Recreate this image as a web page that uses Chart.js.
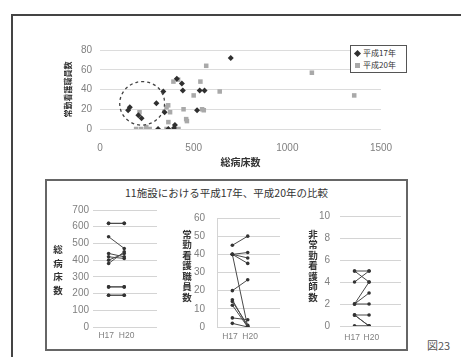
<!DOCTYPE html>
<html lang="ja">
<head>
<meta charset="utf-8">
<title>総病床数と看護職員数</title>
<script src="https://cdn.jsdelivr.net/npm/chart.js@4.4.1/dist/chart.umd.min.js"></script>
<style>
  html, body { margin: 0; padding: 0; background: #fff; }
  body { width: 461px; height: 357px; position: relative; overflow: hidden;
         font-family: "Liberation Sans", Arial, "Noto Sans CJK JP", sans-serif; }
  canvas { position: absolute; }
  .frame { position: absolute; left: 11px; top: 14px; width: 470px; height: 360px;
           border-left: 2px solid #444; border-top: 2px solid #444; }
  .panel { position: absolute; left: 45px; top: 179px; width: 359px; height: 168px;
           border: 2px solid #666; }
  .panel-title { position: absolute; left: 45px; top: 185px; width: 363px; text-align: center;
                 font-size: 10.5px; color: #333; font-family: "Noto Sans CJK JP", sans-serif; }
  .legend { position: absolute; left: 350px; top: 45px; width: 55px; height: 25px;
            border: 1.5px solid #555; background: #fff; font-size: 8px; color: #333;
            font-family: "Noto Sans CJK JP", sans-serif; padding-top: 1px; }
  .legend div { height: 12px; line-height: 12px; padding-left: 12px; position: relative; }
  .legend i { position: absolute; left: 4px; top: 3.5px; width: 5px; height: 5px; }
  .legend .k17 i { background: #2f2f2f; transform: rotate(45deg); }
  .legend .k20 i { background: #a9a9a9; }
  .vlabel { position: absolute; writing-mode: vertical-rl; text-orientation: upright;
            transform: translate(-50%, -50%); font-size: 9.5px; font-weight: bold; color: #333;
            font-family: "Noto Sans CJK JP", sans-serif; }
  .fig { position: absolute; left: 427px; top: 337px; font-size: 11px; color: #555;
         font-family: "Noto Sans CJK JP", sans-serif; }
</style>
</head>
<body>
<div class="frame"></div>
<canvas id="scatter" width="380" height="140" style="left:30px;top:30px"></canvas>
<div class="legend">
  <div class="k17"><i></i>平成17年</div>
  <div class="k20"><i></i>平成20年</div>
</div>

<div class="panel"></div>
<div class="panel-title">11施設における平成17年、平成20年の比較</div>
<canvas id="beds" width="115" height="147" style="left:50px;top:198px"></canvas>
<canvas id="nurses" width="112" height="147" style="left:176px;top:200px"></canvas>
<canvas id="parttime" width="100" height="147" style="left:305px;top:200px"></canvas>
<div class="vlabel" style="left:58px;top:272px;letter-spacing:4px">総病床数</div>
<div class="vlabel" style="left:187px;top:266px;letter-spacing:1px">常勤看護職員数</div>
<div class="vlabel" style="left:313px;top:266px;letter-spacing:1px">非常勤看護師数</div>
<div class="fig">図23</div>

<script>
// 散布図：総病床数 × 常勤看護職員数
const beds17  = [698, 410, 437, 442, 338, 532, 558, 301, 518, 159, 150, 205, 222, 345, 310, 365, 400, 395];
const staff17 = [ 72,  51,  46,  39,  38,  39,  39,  26,  19,  22,  19,  14,  11,  17,   0,   0,   4,   1];
const beds20  = [567, 1131, 1357, 392, 417, 536, 639, 500, 355, 364, 374, 446, 554, 545, 464, 365, 355, 419, 211, 220, 247, 265, 193, 460];
const staff20 = [ 64,   57,   34,  48,  50,  48,  38,  34,  22,  24,  17,  20,  19,  20,   8,   7,   0,   0,  17,   0,   2,   0,   0,  10];
const scatterXTicks = [0, 500, 1000, 1500];
const scatterYTicks = [0, 20, 40, 60, 80];

// 小規模施設のまとまりを囲む破線（データ座標）
const ringCenter = [225, 26];
const ringRadius = [120, 22];

// 11施設の比較（H17 → H20）
const yearLabels = ['H17', 'H20'];
const bedsH17    = [620, 620, 540, 380, 400, 440, 420, 240, 240, 190, 190];
const bedsH20    = [620, 620, 470, 450, 440, 420, 410, 240, 240, 190, 190];
const nursesH17  = [45, 40, 40, 40, 40, 20, 15, 14, 12, 5, 2];
const nursesH20  = [50, 41, 38, 35,  0, 26,  0,  1,  0, 4, 0];
const partH17    = [5, 5, 2, 2, 2, 1, 1, 0, 0, 1, 4];
const partH20    = [5, 4, 4, 3, 2, 0, 0, 0, 0, 1, 5];
const bedTicks   = [0, 100, 200, 300, 400, 500, 600, 700];
const nurseTicks = [0, 10, 20, 30, 40, 50, 60];
const partTicks  = [0, 2, 4, 6, 8, 10];

Chart.defaults.font.family = '"Liberation Sans", Arial, "Noto Sans CJK JP", sans-serif';
Chart.defaults.color = '#808080';

const pts = (xs, ys) => xs.map((x, i) => ({x, y: ys[i]}));
const fixedTicks = list => axis => { axis.ticks = list.map(v => ({value: v})); };
// 2つの年ラベルが詰まらないよう外側へ少し寄せる
const yearTick = v => (v === 1 ? yearLabels[0] + '  ' : '  ' + yearLabels[1]);

const ring = {
  id: 'ring',
  afterDatasetsDraw(chart) {
    const {ctx, scales: {x, y}} = chart;
    const cx = x.getPixelForValue(ringCenter[0]);
    const cy = y.getPixelForValue(ringCenter[1]);
    const rx = x.getPixelForValue(ringCenter[0] + ringRadius[0]) - cx;
    const ry = cy - y.getPixelForValue(ringCenter[1] + ringRadius[1]);
    ctx.save();
    ctx.beginPath();
    ctx.setLineDash([3, 3]);
    ctx.lineWidth = 1.3;
    ctx.strokeStyle = '#444';
    ctx.ellipse(cx, cy, rx, ry, -0.25, 0, Math.PI * 2);
    ctx.stroke();
    ctx.restore();
  }
};

new Chart(document.getElementById('scatter'), {
  type: 'scatter',
  data: {
    datasets: [
      { label: '平成17年', data: pts(beds17, staff17), pointStyle: 'rectRot', radius: 3,
        backgroundColor: '#2f2f2f', borderColor: '#2f2f2f', borderWidth: 0 },
      { label: '平成20年', data: pts(beds20, staff20), pointStyle: 'rect', radius: 3.2,
        backgroundColor: '#a9a9a9', borderColor: '#a9a9a9', borderWidth: 0 }
    ]
  },
  options: {
    responsive: false, animation: false,
    layout: { padding: { left: 0, top: 20, right: 29, bottom: 0 } },
    plugins: { legend: { display: false }, tooltip: { enabled: false } },
    scales: {
      x: {
        type: 'linear', min: 0, max: 1500,
        afterBuildTicks: fixedTicks(scatterXTicks),
        grid: { display: false, drawTicks: false }, border: { display: false },
        ticks: { padding: 13, font: { size: 10 }, callback: v => String(v) },
        title: { display: true, text: '総病床数', color: '#333',
                 font: { size: 10, weight: 'bold' }, padding: { top: 0, bottom: 1 } },
        afterFit: a => { a.height = 41; }
      },
      y: {
        min: 0, max: 80,
        afterBuildTicks: fixedTicks(scatterYTicks),
        grid: { color: '#dcdcdc', drawTicks: false }, border: { display: false },
        ticks: { padding: 8, font: { size: 10 } },
        title: { display: true, text: '常勤看護職員数', color: '#333',
                 font: { size: 8, weight: 'bold' }, padding: { top: 34, bottom: 0 } },
        afterFit: a => { a.width = 70; }
      }
    }
  },
  plugins: [ring]
});

// 施設ごとに H17 と H20 を結ぶ線
function pairChart(id, before, after, yTicks, box) {
  const datasets = before.map((v, i) => ({
    data: [{x: 1, y: v}, {x: 2, y: after[i]}],
    borderColor: '#4a4a4a', borderWidth: 1,
    backgroundColor: '#333', pointRadius: 1.8, pointBorderWidth: 0
  }));
  new Chart(document.getElementById(id), {
    type: 'line',
    data: { datasets },
    options: {
      responsive: false, animation: false,
      layout: { padding: { left: 0, top: box.top, right: box.right, bottom: 0 } },
      plugins: { legend: { display: false }, tooltip: { enabled: false } },
      scales: {
        x: {
          type: 'linear', min: 0, max: box.xMax,
          afterBuildTicks: fixedTicks([1, 2]),
          grid: { display: false, drawTicks: false }, border: { display: false },
          ticks: { padding: box.xPad, font: { size: 8.5 }, maxRotation: 0, autoSkip: false,
                   callback: yearTick },
          afterFit: a => { a.height = box.xHeight; }
        },
        y: {
          min: 0, max: yTicks[yTicks.length - 1],
          afterBuildTicks: fixedTicks(yTicks),
          grid: { color: '#d4d4d4', drawTicks: false },
          border: { display: box.axisLine, color: '#d4d4d4' },
          ticks: { padding: box.yPad, font: { size: 10 } },
          afterFit: a => { a.width = box.yWidth; }
        }
      }
    }
  });
}

pairChart('beds', bedsH17, bedsH20, bedTicks,
  { top: 12, right: 8, xMax: 4.1, xPad: 4, xHeight: 18, yPad: 4, yWidth: 43, axisLine: false });
pairChart('nurses', nursesH17, nursesH20, nurseTicks,
  { top: 12, right: 8, xMax: 4.1, xPad: 5, xHeight: 20, yPad: 12, yWidth: 41, axisLine: true });
pairChart('parttime', partH17, partH20, partTicks,
  { top: 13, right: 3, xMax: 4.2, xPad: 7, xHeight: 21, yPad: 10, yWidth: 35, axisLine: false });
</script>
</body>
</html>
